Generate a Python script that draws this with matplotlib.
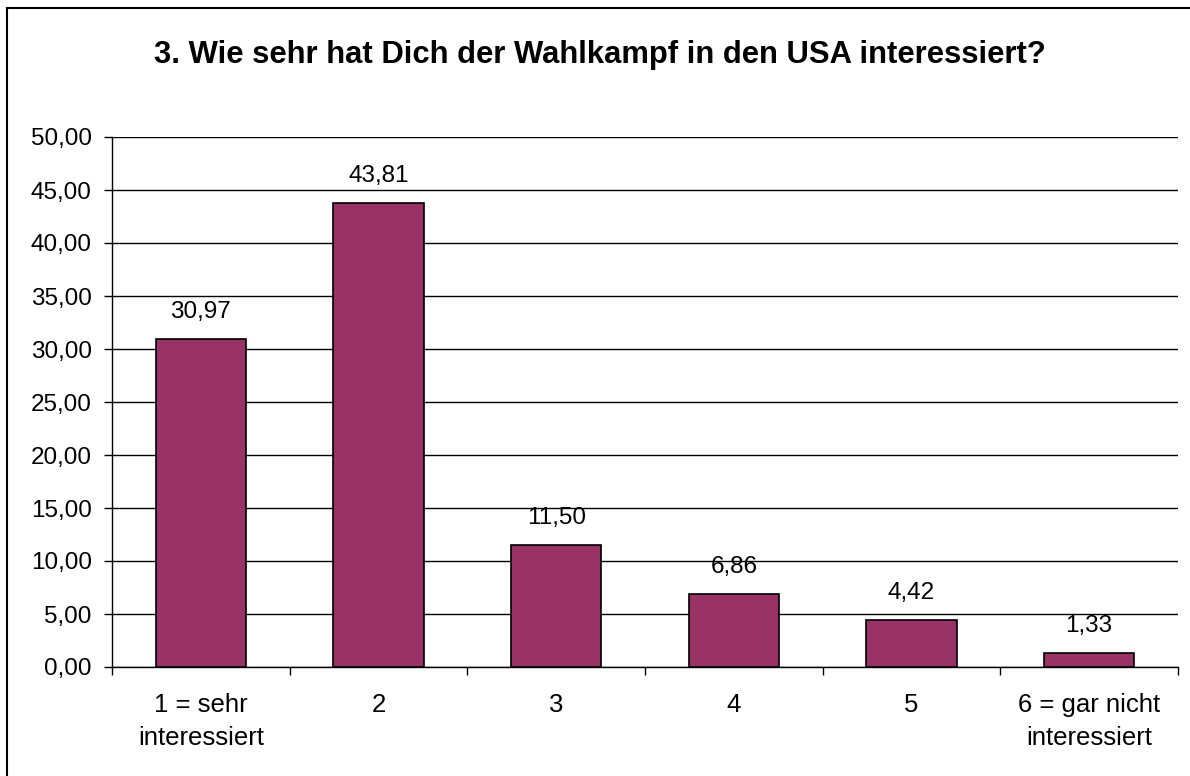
import matplotlib
matplotlib.use("Agg")
import matplotlib.pyplot as plt
from matplotlib.lines import Line2D
from matplotlib.ticker import MultipleLocator, FuncFormatter

categories = ["1 = sehr\ninteressiert", "2", "3", "4", "5", "6 = gar nicht\ninteressiert"]
values = [30.97, 43.81, 11.50, 6.86, 4.42, 1.33]
title = "3. Wie sehr hat Dich der Wahlkampf in den USA interessiert?"

plt.rcParams['font.family'] = ['Liberation Sans', 'DejaVu Sans']

W, H = 1190, 776
FS = 17.5
fig = plt.figure(figsize=(W/100, H/100), dpi=100)
# frame: only left and top edges are visible in the reference
fig.add_artist(Line2D([7/W, 7/W], [0, 1 - 8/H], transform=fig.transFigure, color='black', linewidth=1.5))
fig.add_artist(Line2D([7/W, 1], [1 - 8/H, 1 - 8/H], transform=fig.transFigure, color='black', linewidth=1.5))

left, right, top, bottom = 112, 1178, 137, 667
ax = fig.add_axes([left/W, 1-bottom/H, (right-left)/W, (bottom-top)/H])

x = list(range(len(categories)))
bars = ax.bar(x, values, width=0.507, color='#993366', edgecolor='black', linewidth=1.2, zorder=3)
for xi, v in zip(x, values):
    ax.annotate(f"{v:.2f}".replace('.', ','), (xi, v), xytext=(0, 19.5), textcoords='offset points',
                ha='center', va='center', fontsize=FS)

ax.set_xlim(-0.5, len(categories) - 0.5)
ax.set_ylim(0, 50)
ax.yaxis.set_major_locator(MultipleLocator(5))
ax.yaxis.set_major_formatter(FuncFormatter(lambda v, p: f"{v:.2f}".replace('.', ',')))
ax.grid(axis='y', color='black', linewidth=1, zorder=0)
ax.set_xticks([i + 0.5 for i in x[:-1]] + [-0.5, len(categories) - 0.5], minor=False)
ax.set_xticklabels([])
ax.set_xticks(x, minor=True)
ax.set_xticklabels(categories, minor=True, fontsize=18.5, linespacing=1.45)
ax.tick_params(axis='x', which='minor', length=0, pad=19)
ax.tick_params(axis='x', which='major', length=6, direction='out', width=1)
ax.tick_params(axis='y', length=6, width=1, labelsize=FS, pad=8.5)
for s in ['top', 'right']:
    ax.spines[s].set_visible(False)
for s in ['left', 'bottom']:
    ax.spines[s].set_linewidth(1)

fig.text(600/W, 1 - 63/H, title, ha='center', va='baseline', fontsize=22.3, fontweight='bold')

fig.savefig("out.png", dpi=100)
